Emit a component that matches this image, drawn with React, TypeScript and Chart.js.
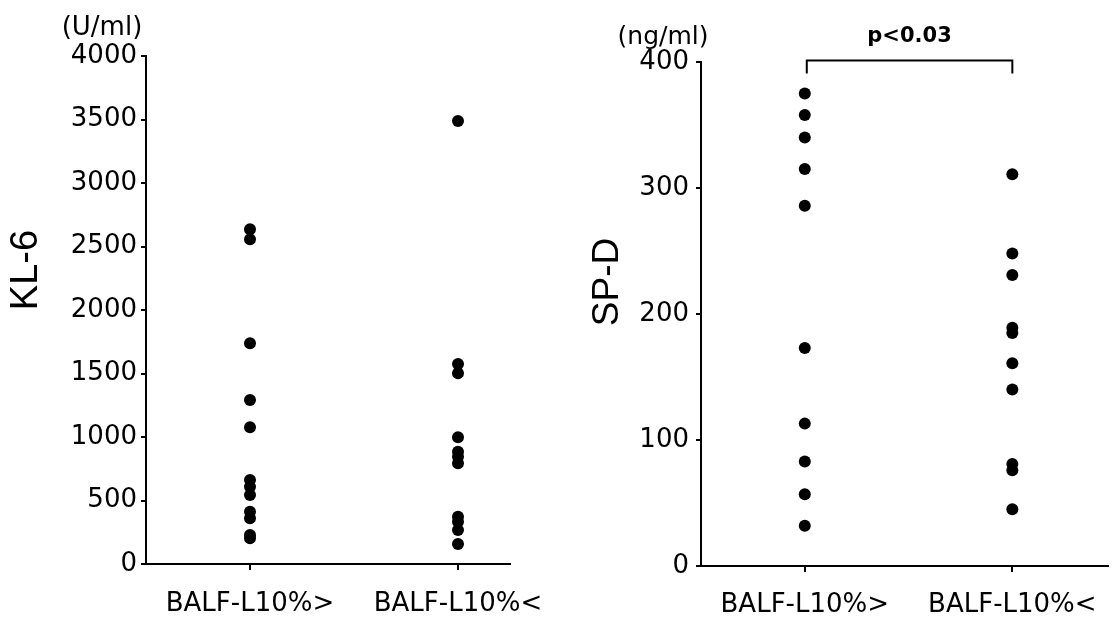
import React, { useEffect, useRef } from "react";
import { Chart, registerables } from "chart.js";

Chart.register(...registerables);

// ---- data ----
const categories = ["BALF-L10%>", "BALF-L10%<"];
const kl6Low = [2635, 2557, 1738, 1291, 1076, 661, 609, 543, 412, 360, 228, 202];
const kl6High = [3488, 1575, 1502, 998, 884, 845, 793, 373, 333, 268, 157];
const spdLow = [375, 358, 340, 315, 286, 173, 113, 83, 57, 32];
const spdHigh = [311, 248, 231, 189, 185, 161, 140, 81, 76, 45];
const kl6Ticks = [0, 500, 1000, 1500, 2000, 2500, 3000, 3500, 4000];
const spdTicks = [0, 100, 200, 300, 400];
const categoryTicks = [1, 2];

const TICK_FONT = { family: "'DejaVu Sans', sans-serif", size: 26 };

type Txt = {
  text: string;
  x: number;
  y: number;
  font: string;
  rotate?: number;
  align?: CanvasTextAlign;
  baseline?: CanvasTextBaseline;
};

type PanelSpec = {
  groups: number[][];
  yTicks: number[];
  xMax: number;
  padding: { left: number; top: number; right: number; bottom: number };
  yWidth: number;
  xHeight: number;
  yTickPad: number;
  xTickPad: number;
  texts: Txt[];
  bracket?: { y: number; drop: number; label: Txt };
};

function makeConfig(spec: PanelSpec): any {
  const datasets = spec.groups.map((vals, gi) => ({
    label: categories[gi],
    data: vals.map((v) => ({ x: gi + 1, y: v })),
    backgroundColor: "#000",
    borderColor: "#000",
    borderWidth: 0,
    pointRadius: 6,
    pointHoverRadius: 6,
  }));

  const overlay = {
    id: "overlayText",
    afterDraw(chart: any) {
      const ctx = chart.ctx as CanvasRenderingContext2D;
      ctx.save();
      ctx.fillStyle = "#000";
      ctx.strokeStyle = "#000";
      const draw = (t: Txt) => {
        ctx.save();
        ctx.font = t.font;
        ctx.textAlign = t.align || "center";
        ctx.textBaseline = t.baseline || "middle";
        ctx.translate(t.x, t.y);
        if (t.rotate) ctx.rotate(t.rotate);
        ctx.fillText(t.text, 0, 0);
        ctx.restore();
      };
      spec.texts.forEach(draw);
      if (spec.bracket) {
        const xs = chart.scales.x;
        const x1 = xs.getPixelForValue(categoryTicks[0]) + 2;
        const x2 = xs.getPixelForValue(categoryTicks[1]);
        const y = spec.bracket.y;
        ctx.lineWidth = 2;
        ctx.beginPath();
        ctx.moveTo(x1, y + spec.bracket.drop);
        ctx.lineTo(x1, y);
        ctx.lineTo(x2, y);
        ctx.lineTo(x2, y + spec.bracket.drop);
        ctx.stroke();
        draw({ ...spec.bracket.label, x: (x1 + x2) / 2 });
      }
      ctx.restore();
    },
  };

  return {
    type: "scatter",
    data: { datasets },
    plugins: [overlay],
    options: {
      responsive: false,
      animation: false,
      events: [],
      layout: { padding: spec.padding },
      plugins: {
        legend: { display: false },
        tooltip: { enabled: false },
        title: { display: false },
      },
      scales: {
        x: {
          type: "linear",
          min: 0.5,
          max: spec.xMax,
          afterBuildTicks: (s: any) => {
            s.ticks = categoryTicks.map((v) => ({ value: v }));
          },
          afterFit: (s: any) => {
            s.height = spec.xHeight;
          },
          grid: {
            display: true,
            drawOnChartArea: false,
            drawTicks: true,
            tickLength: 6,
            color: "#000",
            lineWidth: 2,
          },
          border: { display: true, color: "#000", width: 2 },
          ticks: {
            autoSkip: false,
            maxRotation: 0,
            minRotation: 0,
            padding: spec.xTickPad,
            color: "#000",
            font: TICK_FONT,
            callback: (v: any) => categories[Number(v) - 1] ?? "",
          },
        },
        y: {
          type: "linear",
          min: spec.yTicks[0],
          max: spec.yTicks[spec.yTicks.length - 1],
          afterBuildTicks: (s: any) => {
            s.ticks = spec.yTicks.map((v) => ({ value: v }));
          },
          afterFit: (s: any) => {
            s.width = spec.yWidth;
          },
          grid: {
            display: true,
            drawOnChartArea: false,
            drawTicks: true,
            tickLength: 5,
            color: "#000",
            lineWidth: 2,
          },
          border: { display: true, color: "#000", width: 2 },
          ticks: {
            autoSkip: false,
            padding: spec.yTickPad,
            color: "#000",
            font: TICK_FONT,
            callback: (v: any) => String(v),
          },
        },
      },
    },
  };
}

const leftSpec: PanelSpec = {
  groups: [kl6Low, kl6High],
  yTicks: kl6Ticks,
  xMax: 2.25,
  padding: { left: 0, top: 56, right: 606, bottom: 0 },
  yWidth: 146,
  xHeight: 56,
  yTickPad: 4,
  xTickPad: 19,
  texts: [
    { text: "(U/ml)", x: 102, y: 28, font: "26px 'DejaVu Sans', sans-serif" },
    {
      text: "KL-6",
      x: 27,
      y: 270,
      rotate: -Math.PI / 2,
      font: "38px 'Liberation Sans', Arial, sans-serif",
    },
  ],
};

const rightSpec: PanelSpec = {
  groups: [spdLow, spdHigh],
  yTicks: spdTicks,
  xMax: 2.46,
  padding: { left: 0, top: 62, right: 6, bottom: 0 },
  yWidth: 701,
  xHeight: 54,
  yTickPad: 7,
  xTickPad: 18,
  texts: [
    { text: "(ng/ml)", x: 663, y: 37, font: "25px 'DejaVu Sans', sans-serif" },
    {
      text: "SP-D",
      x: 608,
      y: 282,
      rotate: -Math.PI / 2,
      font: "37px 'Liberation Sans', Arial, sans-serif",
    },
  ],
  bracket: {
    y: 60.5,
    drop: 13,
    label: {
      text: "p<0.03",
      x: 0,
      y: 41.5,
      baseline: "alphabetic",
      font: "bold 21px 'DejaVu Sans', sans-serif",
    },
  },
};

function Panel({ spec }: { spec: PanelSpec }) {
  const ref = useRef<HTMLCanvasElement | null>(null);
  useEffect(() => {
    if (!ref.current) return;
    const chart = new Chart(ref.current, makeConfig(spec));
    return () => chart.destroy();
  }, [spec]);
  return (
    <canvas
      ref={ref}
      width={1116}
      height={620}
      style={{ position: "absolute", left: 0, top: 0, width: 1116, height: 620 }}
    />
  );
}

export default function App() {
  return (
    <div style={{ position: "absolute", left: 0, top: 0, width: 1116, height: 620, background: "#fff" }}>
      <Panel spec={leftSpec} />
      <Panel spec={rightSpec} />
    </div>
  );
}
